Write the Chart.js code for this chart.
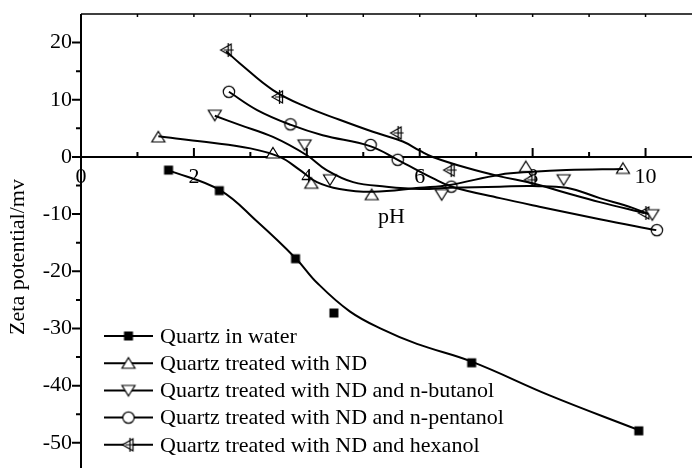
<!DOCTYPE html>
<html>
<head>
<meta charset="utf-8">
<title>Zeta potential vs pH</title>
<script src="https://cdn.jsdelivr.net/npm/chart.js@4/dist/chart.umd.min.js"></script>
<style>
  html, body { margin: 0; padding: 0; background: #fff; overflow: hidden; }
  #wrap { position: absolute; left: 0; top: 0; width: 712px; height: 510px; }
</style>
</head>
<body>
<div id="wrap"><canvas id="myChart" width="712" height="510"></canvas></div>
<script>
/* データ */
const seriesNames = [
  'Quartz in water',
  'Quartz treated with ND',
  'Quartz treated with ND and n-butanol',
  'Quartz treated with ND and n-pentanol',
  'Quartz treated with ND and hexanol'
];
/* 測定点 */
const waterPH = [1.55, 2.45, 3.8, 4.48, 6.92, 9.88];
const waterZeta = [-2.3, -5.9, -17.8, -27.3, -36.0, -47.9];
const ndPH = [1.37, 3.4, 4.08, 5.15, 7.88, 9.6];
const ndZeta = [3.5, 0.7, -4.6, -6.6, -1.7, -2.0];
const butanolPH = [2.37, 3.96, 4.41, 6.39, 8.55, 10.12];
const butanolZeta = [7.3, 2.1, -4.0, -6.6, -4.0, -10.1];
const pentanolPH = [2.62, 3.71, 5.13, 5.61, 6.56, 10.2];
const pentanolZeta = [11.4, 5.7, 2.1, -0.5, -5.2, -12.8];
const hexanolPH = [2.58, 3.49, 5.59, 6.53, 7.96, 9.98];
const hexanolZeta = [18.7, 10.5, 4.2, -2.3, -4.0, -9.8];

/* フィット曲線（図の曲線から読み取った点） */
const waterFitPH = [1.54, 2.46, 3.12, 3.81, 4.18, 4.76, 5.35, 5.95, 6.92, 8.3, 9.86];
const waterFitZeta = [-2.3, -5.8, -11.3, -17.8, -22.0, -27.0, -30.2, -32.7, -35.8, -41.7, -47.7];
const ndFitPH = [1.37, 2.22, 3.0, 3.52, 3.88, 4.18, 4.58, 5.17, 6.0, 6.53, 7.42, 8.0, 8.6, 9.6];
const ndFitZeta = [3.6, 2.6, 1.5, 0, -2.3, -4.4, -5.6, -6.1, -5.4, -4.9, -3.1, -2.6, -2.3, -2.1];
const butanolFitPH = [2.37, 2.81, 3.4, 4.0, 4.35, 4.82, 5.41, 6.0, 6.53, 7.42, 8.0, 8.6, 9.19, 9.77, 10.05];
const butanolFitZeta = [7.2, 5.6, 3.5, 0.3, -2.3, -4.4, -5.2, -5.6, -5.4, -5.2, -5.1, -5.4, -7.2, -8.9, -10.0];
const pentanolFitPH = [2.62, 3.12, 3.72, 4.28, 5.12, 5.61, 6.23, 6.57, 7.42, 8.12, 9.19, 10.19];
const pentanolFitZeta = [11.4, 8.2, 5.6, 3.8, 1.9, -0.5, -3.7, -5.2, -7.2, -8.7, -10.9, -12.8];
const hexanolFitPH = [2.57, 2.81, 3.4, 4.0, 4.58, 5.17, 5.7, 6.0, 6.23, 6.83, 7.42, 8.0, 8.6, 9.19, 9.98];
const hexanolFitZeta = [18.5, 16.4, 11.7, 8.7, 6.5, 4.4, 2.7, 1.1, 0, -1.9, -3.4, -4.6, -6.3, -7.9, -9.8];

/* 目盛りラベル */
const xTicks = [0, 2, 4, 6, 8, 10];
const yTicks = [-50, -40, -30, -20, -10, 0, 10, 20];

const FONT = 'Liberation Serif';
const FSIZE = 22;

/* マーカーを小さいcanvasで作る */
function makeMarker(kind) {
  const c = document.createElement('canvas');
  c.width = 18; c.height = 18;
  const g = c.getContext('2d');
  const m = 9;
  g.lineWidth = 1.2;
  g.strokeStyle = '#000';
  g.fillStyle = '#fff';
  if (kind === 'square') {
    g.fillStyle = '#000';
    g.fillRect(m - 4.5, m - 4.5, 9, 9);
    return c;
  }
  g.beginPath();
  if (kind === 'up') { g.moveTo(m, m - 5.5); g.lineTo(m + 6.5, m + 5); g.lineTo(m - 6.5, m + 5); g.closePath(); }
  if (kind === 'down') { g.moveTo(m, m + 5.5); g.lineTo(m + 6.5, m - 5); g.lineTo(m - 6.5, m - 5); g.closePath(); }
  if (kind === 'circle') { g.arc(m, m, 5.7, 0, Math.PI * 2); }
  if (kind === 'left') { g.moveTo(m - 6, m); g.lineTo(m + 4.5, m - 6); g.lineTo(m + 4.5, m + 6); g.closePath(); }
  g.fill();
  g.stroke();
  if (kind === 'left') {
    g.beginPath();
    g.moveTo(m + 1.5, m - 7); g.lineTo(m + 1.5, m + 7);
    g.moveTo(m - 3, m); g.lineTo(m + 7, m);
    g.stroke();
  }
  return c;
}

const markers = ['square', 'up', 'down', 'circle', 'left'].map(makeMarker);
const allPH = [waterPH, ndPH, butanolPH, pentanolPH, hexanolPH];
const allZeta = [waterZeta, ndZeta, butanolZeta, pentanolZeta, hexanolZeta];
const allFitPH = [waterFitPH, ndFitPH, butanolFitPH, pentanolFitPH, hexanolFitPH];
const allFitZeta = [waterFitZeta, ndFitZeta, butanolFitZeta, pentanolFitZeta, hexanolFitZeta];

const toXY = (xs, ys) => xs.map((x, k) => ({ x: x, y: ys[k] }));

/* 曲線（線だけ） */
const curveSets = seriesNames.map((name, i) => ({
  label: name + ' fit',
  data: toXY(allFitPH[i], allFitZeta[i]),
  borderColor: '#000',
  borderWidth: 2,
  tension: 0.4,
  fill: false,
  pointRadius: 0,
  isCurve: true
}));
/* 測定点（マーカーだけ） */
const pointSets = seriesNames.map((name, i) => ({
  label: name,
  data: toXY(allPH[i], allZeta[i]),
  showLine: false,
  pointStyle: markers[i],
  pointRadius: 5,
  pointHoverRadius: 5
}));

/* 軸・目盛り・凡例・pHラベルを描く */
const framePlugin = {
  id: 'frame',
  beforeDatasetsDraw(chart) {
    const ctx = chart.ctx;
    const a = chart.chartArea;
    const xs = chart.scales.x, ys = chart.scales.y;
    const y0 = ys.getPixelForValue(0);
    ctx.save();
    ctx.strokeStyle = '#000';
    // 上の枠線
    ctx.lineWidth = 1.5;
    ctx.beginPath();
    ctx.moveTo(a.left, a.top); ctx.lineTo(a.right, a.top);
    for (let v = 1; v < xs.max; v++) {
      const px = xs.getPixelForValue(v);
      ctx.moveTo(px, a.top); ctx.lineTo(px, a.top + 3);
    }
    ctx.stroke();
    // y軸
    ctx.lineWidth = 2;
    ctx.beginPath();
    ctx.moveTo(a.left, a.top); ctx.lineTo(a.left, a.bottom);
    for (let v = ys.min; v < ys.max; v += 5) {
      const py = ys.getPixelForValue(v);
      const len = v % 10 === 0 ? 9 : 5;
      ctx.moveTo(a.left - len, py); ctx.lineTo(a.left, py);
    }
    ctx.stroke();
    // x軸（y=0）
    ctx.beginPath();
    ctx.moveTo(a.left, y0); ctx.lineTo(a.right, y0);
    for (let v = 1; v < xs.max; v++) {
      const px = xs.getPixelForValue(v);
      const len = v % 2 === 0 ? 9 : 5;
      ctx.moveTo(px, y0); ctx.lineTo(px, y0 - len);
    }
    ctx.stroke();
    ctx.restore();
  },
  afterDraw(chart) {
    const ctx = chart.ctx;
    const a = chart.chartArea;
    const y0 = chart.scales.y.getPixelForValue(0);
    ctx.save();
    ctx.fillStyle = '#000';
    ctx.font = FSIZE + 'px "' + FONT + '"';
    // pH
    ctx.textAlign = 'center';
    ctx.textBaseline = 'middle';
    ctx.fillText('pH', (a.left + a.right) / 2, y0 + 60);
    // 凡例
    ctx.textAlign = 'left';
    ctx.strokeStyle = '#000';
    ctx.lineWidth = 2;
    chart.data.datasets.filter(ds => !ds.isCurve).forEach((ds, i) => {
      const ly = 336 + i * 27.2;
      ctx.beginPath();
      ctx.moveTo(104, ly); ctx.lineTo(153, ly);
      ctx.stroke();
      const mk = ds.pointStyle;
      ctx.drawImage(mk, 128.5 - mk.width / 2, ly - mk.height / 2);
      ctx.fillText(ds.label, 160, ly + 1);
    });
    ctx.restore();
  }
};

const ctx = document.getElementById('myChart').getContext('2d');
const myChart = new Chart(ctx, {
  type: 'line',
  data: { datasets: curveSets.concat(pointSets) },
  options: {
    responsive: false,
    animation: false,
    events: [],
    layout: { padding: { top: 14, right: 10, bottom: 10, left: 0 } },
    plugins: {
      legend: { display: false },
      tooltip: { enabled: false }
    },
    scales: {
      x: {
        type: 'linear',
        position: { y: 0 },
        min: 0,
        max: 11,
        grid: { display: false, drawTicks: false },
        border: { display: false },
        afterBuildTicks: s => { s.ticks = xTicks.map(v => ({ value: v })); },
        afterFit: s => { s.height = 0; s.paddingLeft = 0; s.paddingRight = 0; s.paddingTop = 0; s.paddingBottom = 0; },
        ticks: { color: '#000', padding: 7, font: { family: FONT, size: FSIZE } }
      },
      y: {
        type: 'linear',
        min: -60,
        max: 25,
        grid: { display: false, drawTicks: false },
        border: { display: false },
        afterBuildTicks: s => { s.ticks = yTicks.map(v => ({ value: v })); },
        afterFit: s => { s.width = 81; s.paddingTop = 0; s.paddingBottom = 0; s.paddingLeft = 0; s.paddingRight = 0; },
        ticks: { color: '#000', padding: 9, font: { family: FONT, size: FSIZE } },
        title: {
          display: true,
          text: 'Zeta potential/mv',
          color: '#000',
          padding: { top: 5, bottom: 0 },
          font: { family: FONT, size: FSIZE }
        }
      }
    }
  },
  plugins: [framePlugin]
});
</script>
</body>
</html>
